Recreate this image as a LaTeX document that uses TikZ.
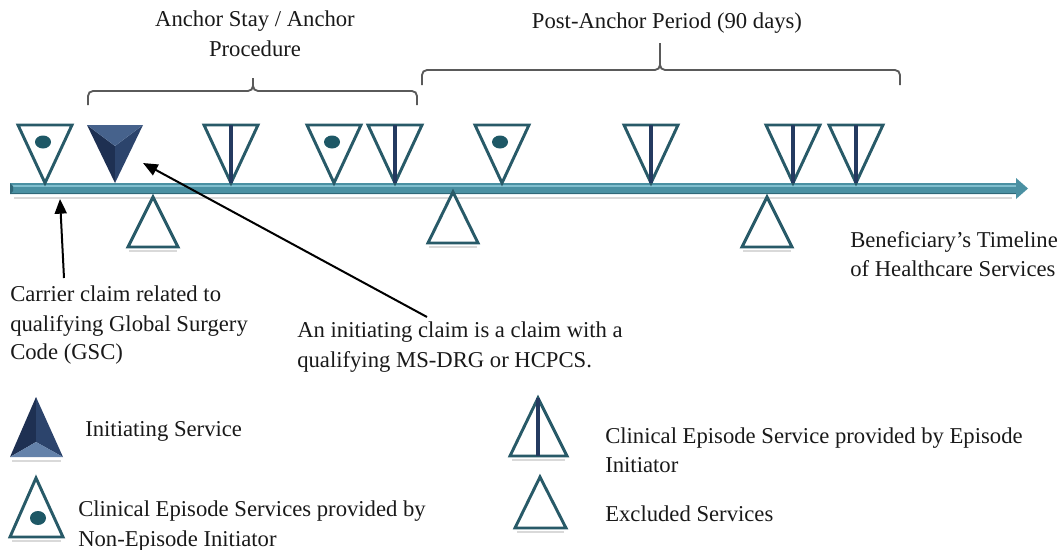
\documentclass[tikz,border=0pt]{standalone}
\usepackage{fontspec}
\setmainfont{Liberation Serif}
\usetikzlibrary{arrows.meta}
\definecolor{tealline}{RGB}{40,90,104}
\definecolor{navy}{RGB}{36,58,96}
\definecolor{navydark}{RGB}{30,48,82}
\definecolor{navymid}{RGB}{44,68,108}
\definecolor{navylight}{RGB}{70,98,140}
\definecolor{navypale}{RGB}{100,130,170}
\definecolor{dotc}{RGB}{30,88,102}
\definecolor{barc}{RGB}{74,144,162}
\definecolor{barlight}{RGB}{128,190,206}
\definecolor{bardark}{RGB}{48,104,120}
\definecolor{bracec}{RGB}{90,90,90}
\definecolor{txt}{RGB}{25,25,25}
\tikzset{
  tri/.style={draw=tealline, line width=2.2pt, line join=miter, fill=white},
  vline/.style={draw=navy, line width=2.6pt},
  brace/.style={draw=bracec, line width=1.4pt},
  lbl/.style={font=\fontsize{17}{21}\selectfont, text=txt, inner sep=0pt, anchor=base west},
  clbl/.style={lbl, anchor=base},
  ptr/.style={draw=black, line width=1.5pt, -{Triangle[length=11pt,width=9pt]}},
  shadow/.style={draw=black!15, line width=2pt}
}
\begin{document}
\begin{tikzpicture}[x=0.75pt,y=-0.75pt]
\useasboundingbox (0,0) rectangle (1061,550);

% timeline bar
\draw[shadow] (14,198) -- (1012,198);
\fill[barc] (10,183) -- (1016,183) -- (1016,178) -- (1028,188.5) -- (1016,199) -- (1016,194) -- (10,194) -- cycle;
\draw[barlight, line width=1.5pt] (12,186) -- (1016,186);
\draw[bardark, line width=1pt] (10,193.5) -- (1016,193.5);
\fill[bardark] (10,183) -- (13,186) -- (13,191) -- (10,194) -- cycle;

% braces
\draw[brace] (88,105) -- (88,96) to[out=90,in=180] (93,91) -- (248,91) to[out=0,in=-90] (253,86) -- (253,78)
  (253,86) to[out=-90,in=180] (258,91) -- (412,91) to[out=0,in=90] (417,96) -- (417,105);
\draw[brace] (422,85) -- (422,75) to[out=90,in=180] (427,70) -- (655,70) to[out=0,in=-90] (660,65) -- (660,43)
  (660,65) to[out=-90,in=180] (665,70) -- (895,70) to[out=0,in=90] (900,75) -- (900,85);

% top triangles with dot
\foreach \x in {45,334,502} {
  \path[tri] (\x-27,125) -- (\x+27,125) -- (\x,183) -- cycle;
  \fill[dotc] (\x-2,142) ellipse [x radius=8, y radius=6.5];
}
% top triangles with vertical line
\foreach \x in {231,395,651,793,856} {
  \path[tri] (\x-27,125) -- (\x+27,125) -- (\x,183) -- cycle;
  \draw[vline] (\x,125) -- (\x,183);
}
% initiating service on timeline
\fill[navydark] (87,125) -- (115,146) -- (115,183) -- cycle;
\fill[navymid] (143,125) -- (115,146) -- (115,183) -- cycle;
\fill[navylight] (87,125) -- (143,125) -- (115,146) -- cycle;

% bottom excluded triangles
\foreach \x/\a/\b in {153/197/247, 453/192/243, 767/197/247} {
  \draw[shadow] (\x-24,\b+4) -- (\x+24,\b+4);
  \path[tri] (\x,\a) -- (\x+25,\b) -- (\x-25,\b) -- cycle;
}

% pointers
\coordinate (gscTip) at (60,199);
\coordinate (gscTail) at (64,278);
\coordinate (initTip) at (143,163);
\coordinate (initTail) at (427,317);
\draw[ptr] (gscTail) -- (gscTip);
\draw[ptr] (initTail) -- (initTip);

% titles
\node[clbl] (anchor1) at (255,26) {Anchor Stay / Anchor};
\node[clbl] (anchor2) at (255,56) {Procedure};
\node[clbl] (post) at (667,28) {Post-Anchor Period (90 days)};

% timeline label
\node[lbl] (ben1) at (850,247) {Beneficiary’s Timeline};
\node[lbl] (ben2) at (850,276) {of Healthcare Services};

% carrier label
\node[lbl] (car1) at (10,301) {Carrier claim related to};
\node[lbl] (car2) at (10,331) {qualifying Global Surgery};
\node[lbl] (car3) at (10,359) {Code (GSC)};

% initiating claim label
\node[lbl] (ic1) at (297,337) {An initiating claim is a claim with a};
\node[lbl] (ic2) at (297,367) {qualifying MS-DRG or HCPCS.};

% legend symbols
\draw[shadow] (12,461) -- (61,461);
\fill[navydark] (36,397) -- (36,442) -- (10,457) -- cycle;
\fill[navymid] (36,397) -- (36,442) -- (63,457) -- cycle;
\fill[navypale] (10,457) -- (63,457) -- (36,442) -- cycle;

\draw[shadow] (12,541) -- (61,541);
\path[tri] (36,478) -- (63,537) -- (10,537) -- cycle;
\fill[dotc] (38,518) ellipse [x radius=8, y radius=7];

\draw[shadow] (512,460) -- (565,460);
\path[tri] (538,398) -- (567,456) -- (510,456) -- cycle;
\draw[vline] (538,398) -- (538,456);

\draw[shadow] (517,532) -- (564,532);
\path[tri] (540,477) -- (566,528) -- (515,528) -- cycle;

% legend labels
\node[lbl] (lg1) at (85,436) {Initiating Service};
\node[lbl] (lg2a) at (78,516) {Clinical Episode Services provided by};
\node[lbl] (lg2b) at (78,546) {Non-Episode Initiator};
\node[lbl] (lg3a) at (605,443) {Clinical Episode Service provided by Episode};
\node[lbl] (lg3b) at (605,472) {Initiator};
\node[lbl] (lg4) at (605,521) {Excluded Services};
\end{tikzpicture}
\end{document}
